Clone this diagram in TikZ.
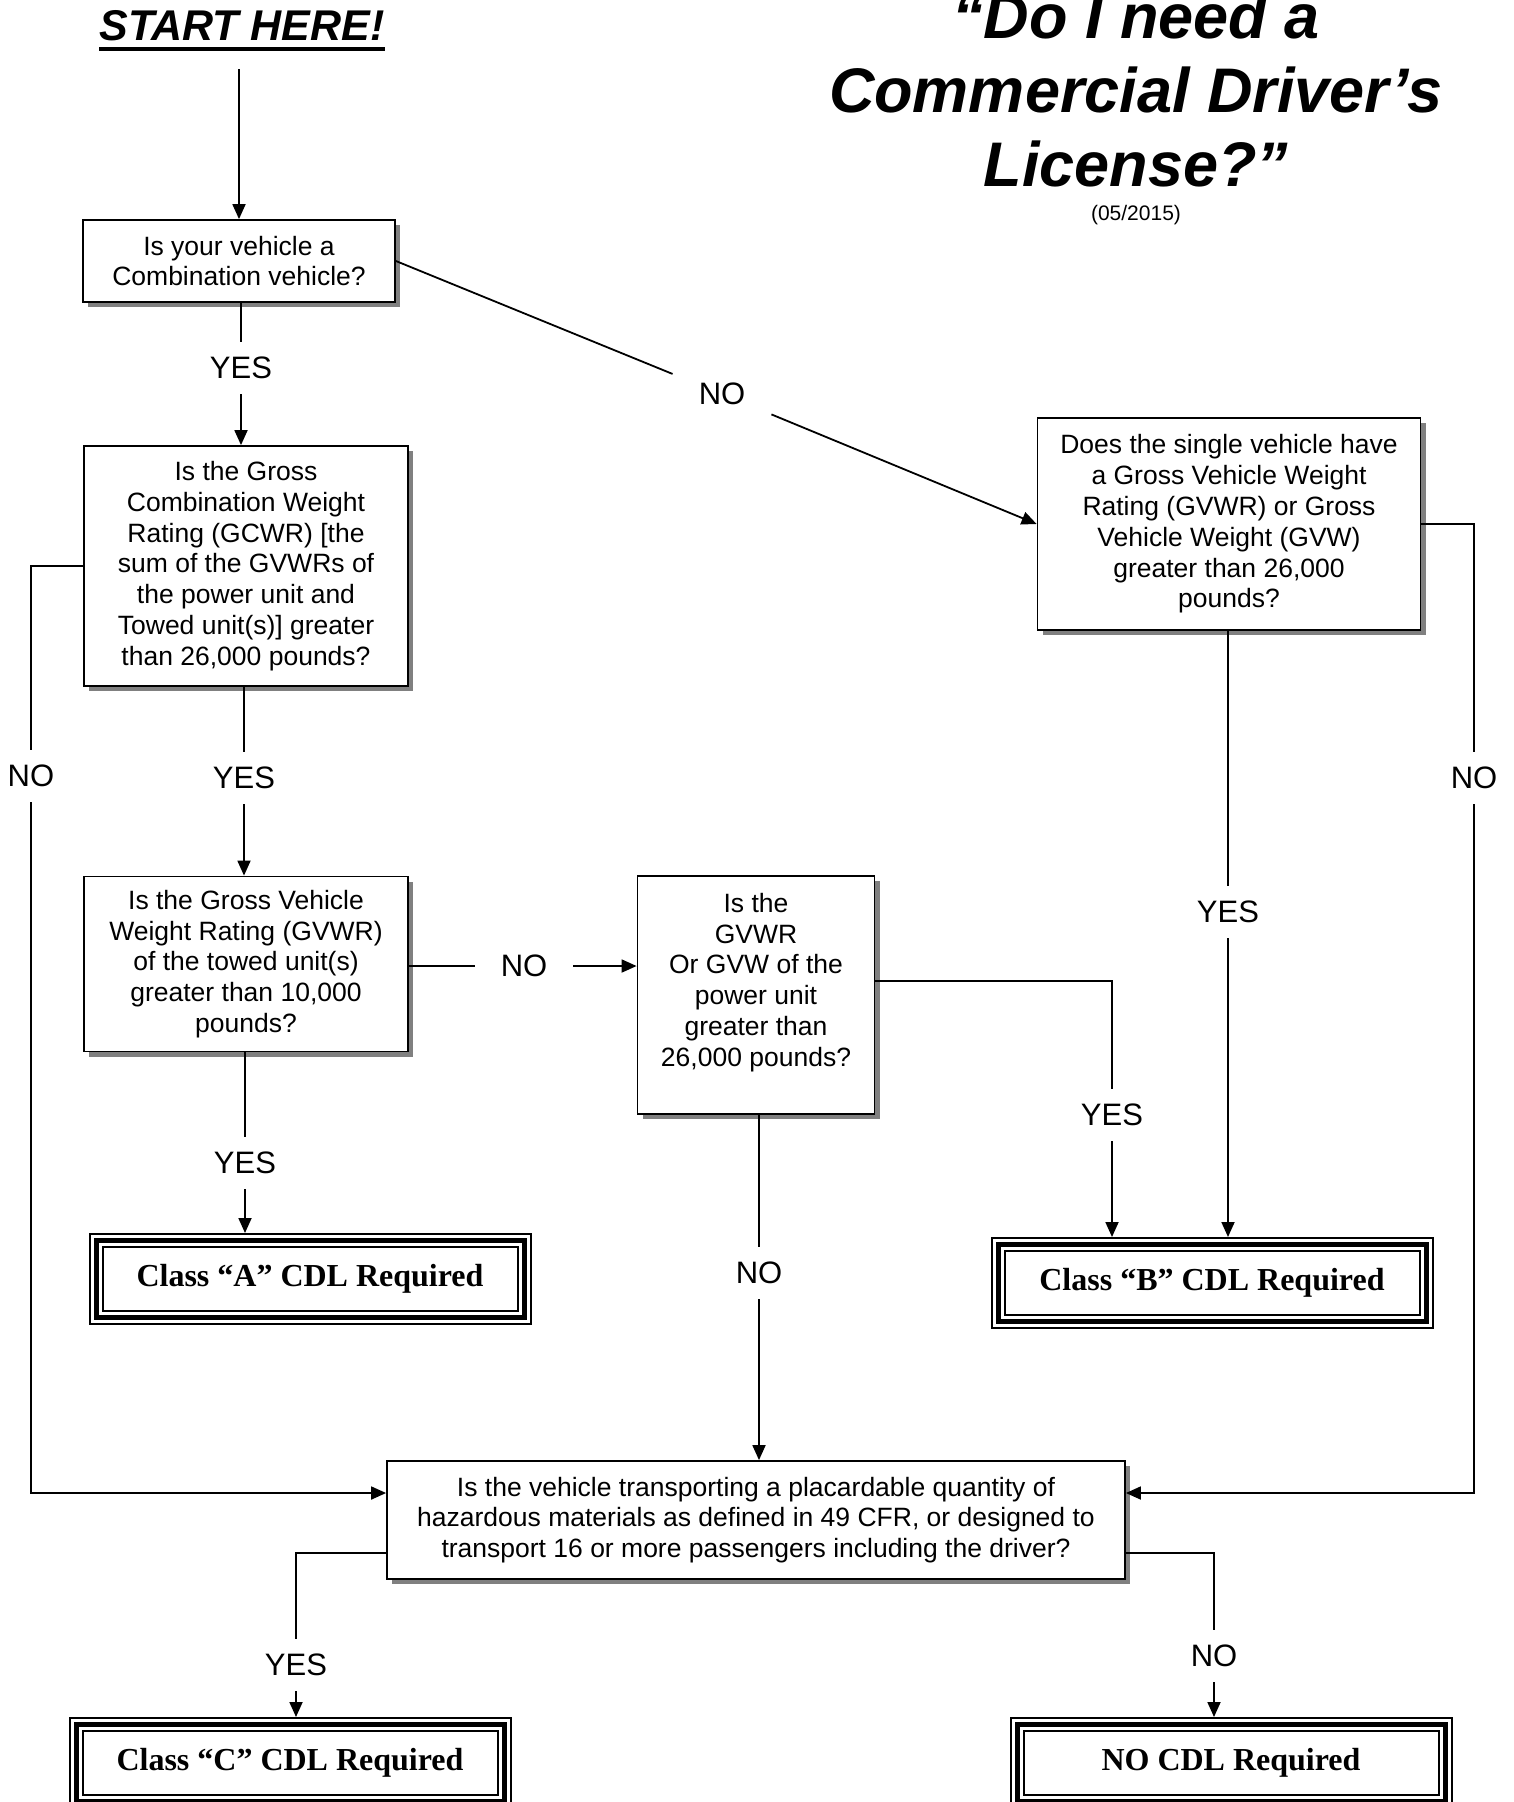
\documentclass[tikz,border=0pt]{standalone}
\usepackage{fontspec}
\setmainfont{Liberation Sans}
\newfontfamily\timesfont{Liberation Serif}
\usetikzlibrary{arrows.meta,shadows}

\begin{document}
\begin{tikzpicture}[x=1pt,y=-1pt,
        box/.style = {draw, fill=white, line width=1.8pt, inner sep=0pt, align=center,
                font=\fontsize{26.5}{30.8}\selectfont,
                drop shadow={shadow xshift=5pt, shadow yshift=-5pt, fill=black!50, opacity=1}},
        final/.style = {preaction={draw, line width=15pt}, preaction={draw=white, line width=11pt},
                draw, line width=5pt, minimum width=428pt, minimum height=77pt, outer sep=7.5pt,
                font=\timesfont\bfseries\fontsize{32}{38}\selectfont},
        lbl/.style = {inner xsep=26pt, inner ysep=15pt, font=\fontsize{31}{36}\selectfont},
        conn/.style = {line width=1.8pt},
        arr/.style = {line width=1.8pt, -{Triangle[length=15pt,width=13pt]}}]

        \useasboundingbox (0,0) rectangle (1513,1802);

        % headings
        \node[inner sep=0pt, font=\fontsize{43}{50}\selectfont\bfseries\itshape] (start) at (242,26) {START HERE!};
        \draw[line width=4.5pt] ([yshift=-8pt]start.base west) -- ([yshift=-8pt]start.base east);
        \node[align=center, font=\fontsize{63}{74}\selectfont\bfseries\itshape] (title) at (1136,90) {“Do I need a\\Commercial Driver’s\\License?”};
        \node[font=\fontsize{21}{25}\selectfont] (date) at (1136,215) {(05/2015)};
        \coordinate (s0) at (239,69);

        % questions
        \node[box, minimum width=312pt, minimum height=82pt] (q1) at (239,261) {Is your vehicle a\\Combination vehicle?};
        \node[box, minimum width=324pt, minimum height=240pt] (q2) at (246,566) {Is the Gross\\Combination Weight\\Rating (GCWR) [the\\sum of the GVWRs of\\the power unit and\\Towed unit(s)] greater\\than 26,000 pounds?};
        \node[box, minimum width=324pt, minimum height=175pt] (q3) at (246,964) {Is the Gross Vehicle\\Weight Rating (GVWR)\\of the towed unit(s)\\greater than 10,000\\pounds?};
        \node[box, minimum width=237pt, minimum height=238pt] (q4) at (756,995) {Is the\\GVWR\\Or GVW of the\\power unit\\greater than\\26,000 pounds?\\\mbox{}};
        \node[box, minimum width=383pt, minimum height=212pt] (q5) at (1229,524) {Does the single vehicle have\\a Gross Vehicle Weight\\Rating (GVWR) or Gross\\Vehicle Weight (GVW)\\greater than 26,000\\pounds?};
        \node[box, minimum width=738pt, minimum height=118pt] (q6) at (756,1520) {Is the vehicle transporting a placardable quantity of\\hazardous materials as defined in 49 CFR, or designed to\\transport 16 or more passengers including the driver?};

        % results
        \node[final] (cA) at (310,1279) {Class “A” CDL Required};
        \node[final] (cB) at (1212,1283) {Class “B” CDL Required};
        \node[final] (cC) at (290,1763) {Class “C” CDL Required};
        \node[final] (cN) at (1231,1763) {NO CDL Required};

        % answers
        \node[lbl] (y1) at (241,368) {YES};
        \node[lbl] (y2) at (244,778) {YES};
        \node[lbl] (y3) at (245,1163) {YES};
        \node[lbl] (y4) at (1228,912) {YES};
        \node[lbl] (y5) at (1112,1115) {YES};
        \node[lbl] (y6) at (296,1665) {YES};
        \node[lbl] (n1) at (722,394) {NO};
        \node[lbl] (n2) at (524,966) {NO};
        \node[lbl] (n3) at (1474,778) {NO};
        \node[lbl] (n4) at (31,776) {NO};
        \node[lbl] (n5) at (759,1273) {NO};
        \node[lbl] (n6) at (1214,1656) {NO};

        \draw[arr] (s0) -- (q1);

        \draw[conn] (y1 |- q1.south) -- (y1);
        \draw[arr] (y1) -- (y1 |- q2.north);
        \draw[conn] (y2 |- q2.south) -- (y2);
        \draw[arr] (y2) -- (y2 |- q3.north);
        \draw[conn] (y3 |- q3.south) -- (y3);
        \draw[arr] (y3) -- (y3 |- cA.north);

        \draw[conn] (q1.east) -- (n1);
        \draw[arr] (n1) -- (q5.west);
        \draw[conn] (n2 -| q3.east) -- (n2);
        \draw[arr] (n2) -- (n2 -| q4.west);

        \draw[conn] (y4 |- q5.south) -- (y4);
        \draw[arr] (y4) -- (y4 |- cB.north);
        \draw[conn] ([yshift=14pt]q4.east) -| (y5);
        \draw[arr] (y5) -- (y5 |- cB.north);

        \draw[conn] (q5.east) -| (n3);
        \draw[arr] (n3) |- ([yshift=27pt]q6.east);
        \draw[conn] (q2.west) -| (n4);
        \draw[arr] (n4) |- ([yshift=27pt]q6.west);
        \draw[conn] (n5 |- q4.south) -- (n5);
        \draw[arr] (n5) -- (n5 |- q6.north);

        \draw[conn] ([yshift=-33pt]q6.west) -| (y6);
        \draw[arr] (y6) -- (y6 |- cC.north);
        \draw[conn] ([yshift=-33pt]q6.east) -| (n6);
        \draw[arr] (n6) -- (n6 |- cN.north);

\end{tikzpicture}
\end{document}
